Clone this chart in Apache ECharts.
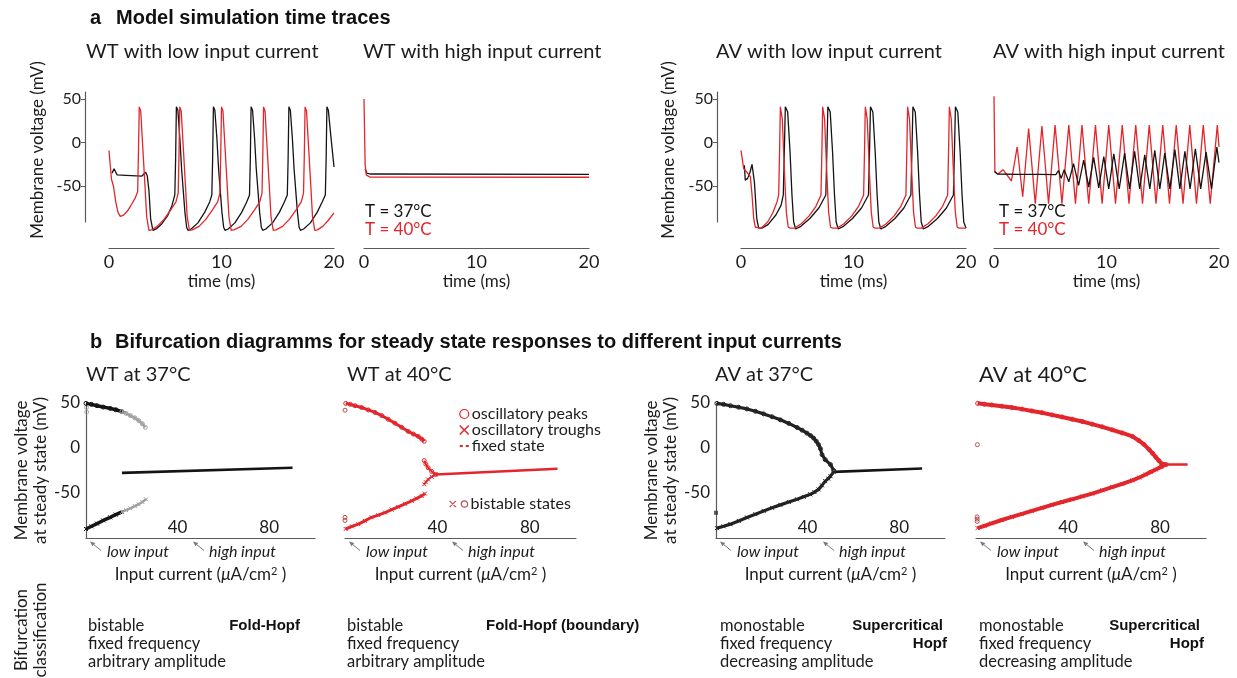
<!DOCTYPE html>
<html>
<head>
<meta charset="utf-8">
<script src="https://cdn.jsdelivr.net/npm/echarts@6/dist/echarts.min.js"></script>
<style>
html, body { margin: 0; padding: 0; background: #fff; }
#chart { width: 1237px; height: 678px; }
</style>
</head>
<body>
<div id="chart"></div>
<script>
// time traces [t (ms), V (mV)]
var wtLow37 = [[0.27,-35],[0.45,-30],[0.72,-37],[1.5,-37.5],[2.9,-38.5],[3.05,-39.5],[3.26,-34],[3.4,-38],[3.55,-55],[3.7,-87],[3.9,-100.5],
    [4.2,-99],[4.7,-93],[5.2,-84],[5.6,-72],[5.85,-60],[5.92,-20],[5.99,41],
    [6.12,37],[6.3,5],[6.45,-30],[6.6,-55],[6.75,-80],[6.9,-97],[7.02,-100.5],
    [7.3,-99],[7.9,-92],[8.5,-80],[8.95,-68],[9.14,-60],[9.21,-20],[9.28,41],
    [9.41,37],[9.59,5],[9.74,-30],[9.89,-55],[10.04,-80],[10.19,-97],[10.31,-100.5],
    [10.59,-99],[11.19,-92],[11.79,-80],[12.24,-68],[12.49,-60],[12.56,-20],[12.63,41],
    [12.76,37],[12.94,5],[13.09,-30],[13.24,-55],[13.39,-80],[13.54,-97],[13.66,-100.5],
    [13.94,-99],[14.54,-92],[15.14,-80],[15.59,-68],[15.85,-60],[15.92,-20],[15.99,41],
    [16.12,37],[16.3,5],[16.45,-30],[16.6,-55],[16.75,-80],[16.9,-97],[17.02,-100.5],
    [17.3,-99],[17.9,-92],[18.5,-80],[18.95,-68],[19.23,-60],[19.3,-20],[19.37,41],
    [19.5,37],[19.7,10],[20,-28]];
var wtLow40 = [[0,-9],[0.12,-9],[0.22,-42],[0.4,-50],[0.6,-68],[0.8,-80],[1.0,-84.5],[1.3,-83],[1.6,-79],[2.0,-71],[2.35,-63],[2.55,-56],[2.62,-10],[2.69,41],
    [2.82,36],[3.0,-5],[3.2,-50],[3.35,-85],[3.55,-100.5],[3.79,-100],
    [4.29,-96],[4.89,-88],[5.49,-77],[5.95,-68],[6.15,-58],[6.22,-15],[6.29,41],
    [6.42,36],[6.6,-5],[6.8,-50],[6.95,-85],[7.15,-100.5],[7.4,-100],
    [8.0,-96],[8.6,-88],[9.2,-77],[9.66,-68],[9.86,-58],[9.93,-15],[10.0,41],
    [10.13,36],[10.31,-5],[10.51,-50],[10.66,-85],[10.86,-100.5],[11.1,-100],
    [11.74,-96],[12.34,-88],[12.94,-77],[13.4,-68],[13.6,-58],[13.67,-15],[13.74,41],
    [13.87,36],[14.05,-5],[14.25,-50],[14.4,-85],[14.6,-100.5],[14.85,-100],
    [15.43,-96],[16.03,-88],[16.63,-77],[17.09,-68],[17.29,-58],[17.36,-15],[17.43,41],
    [17.56,36],[17.74,-5],[17.94,-50],[18.09,-85],[18.29,-100.5],[18.53,-100],
    [19.0,-96],[19.5,-89],[20,-80.5]];
var wtHigh37 = [[0.1,-30],[0.25,-35],[0.6,-36],[20,-36.4]];
var wtHigh40 = [[0,50],[0.1,-25],[0.2,-37],[0.5,-39.5],[20,-39.7]];
var avLow37 = [[0.3,-26],[0.38,-43],[0.59,-41],[0.8,-34],[0.98,-25],[1.19,-45],[1.4,-87],[1.57,-98],[1.85,-98],[2.4,-94],[3.1,-83],[3.56,-72],[3.76,-60],[3.85,-11],[3.94,41],
    [4.15,35],[4.36,-11],[4.53,-60],[4.68,-91],[4.86,-99],
    [5.32,-96],[6.12,-87],[6.92,-75],[7.54,-60],[7.63,-12],[7.72,41],
    [7.93,35],[8.14,-11],[8.31,-60],[8.46,-91],[8.64,-99],
    [9.11,-96],[9.91,-87],[10.71,-75],[11.33,-60],[11.42,-12],[11.51,41],
    [11.72,35],[11.93,-11],[12.1,-60],[12.25,-91],[12.43,-99],
    [12.88,-96],[13.68,-87],[14.48,-75],[15.1,-60],[15.19,-12],[15.28,41],
    [15.49,35],[15.7,-11],[15.87,-60],[16.02,-91],[16.2,-99],
    [16.66,-96],[17.46,-87],[18.26,-75],[18.88,-60],[18.97,-12],[19.06,41],
    [19.27,35],[19.48,-11],[19.65,-60],[19.8,-91],[20,-98]];
var avLow40 = [[0,-9],[0.15,-8],[0.24,-30],[0.39,-31],[0.53,-34],[0.83,-39],[0.98,-60],[1.13,-87],[1.27,-97],[1.42,-98],[1.78,-98],[2.37,-91],[2.81,-81],[3.2,-68],[3.35,-60],[3.44,-3],[3.5,41],
    [3.67,27],[3.85,-30],[4.03,-80],[4.2,-97],[4.38,-98],
    [4.76,-98],[5.36,-93],[6.06,-84],[6.66,-73],[7.11,-60],[7.2,-3],[7.26,41],
    [7.43,27],[7.61,-30],[7.79,-80],[7.96,-97],[8.14,-98],
    [8.55,-98],[9.15,-93],[9.85,-84],[10.45,-73],[10.9,-60],[10.99,-3],[11.05,41],
    [11.22,27],[11.4,-30],[11.58,-80],[11.75,-97],[11.93,-98],
    [12.31,-98],[12.91,-93],[13.61,-84],[14.21,-73],[14.66,-60],[14.75,-3],[14.81,41],
    [14.98,27],[15.16,-30],[15.34,-80],[15.51,-97],[15.69,-98],
    [16.02,-98],[16.62,-93],[17.32,-84],[17.92,-73],[18.37,-60],[18.46,-3],[18.52,41],
    [18.69,27],[18.87,-30],[19.05,-80],[19.22,-97],[19.4,-98],[20,-98]];
var avHigh37 = [[0.05,-33],[0.3,-36],[2,-36.3],[4,-36.5],[5.5,-36.8],[5.73,-32],[5.97,-41],[6.24,-31],[6.65,-45],[7.07,-24],[7.52,-49],[7.97,-20],[8.42,-51],[8.86,-17],[9.31,-52],[9.76,-16],[10.2,-53],[10.65,-13],[11.13,-53],[11.61,-12],[12.05,-53],[12.5,-10],[12.95,-53],[13.4,-14],[13.85,-53],[14.29,-9],[14.74,-53],[15.18,-12],[15.63,-53],[16.08,-8],[16.52,-53],[16.97,-10],[17.43,-53],[17.9,-7],[18.37,-53],[18.85,-11],[19.33,-53],[19.81,-5],[20,-23]];
var avHigh40 = [[0,53],[0.08,-34],[0.36,-36],[0.8,-31],[1.55,-44],[2.06,-5],[2.55,-62],[3.08,16],[3.67,-70],[4.26,19],[4.85,-70],[5.43,20],[6.04,-70],[6.65,20],[7.24,-70],[7.82,20],[8.42,-70],[9.02,20],[9.61,-70],[10.2,20],[10.8,-70],[11.4,20],[12.0,-70],[12.6,20],[13.2,-70],[13.8,20],[14.4,-70],[15.0,20],[15.6,-70],[16.2,20],[16.8,-70],[17.4,20],[18.0,-70],[18.6,20],[19.22,-70],[19.85,20],[20,-5]];

// bifurcation branches [I (uA/cm2), V (mV)]
var wt37Peaks = [[0,49.6],[2.4,48.5],[4.8,47],[7.5,45.5],[10.6,44],[13,42.5],[15.7,40.4],[17.5,38.5],[19.4,36],[21.3,33.5],[23,30.5],[24.6,27],[25.9,23]];
var wt37Troughs = [[0,-90],[2.4,-87],[4.8,-84],[7.5,-80.5],[10.6,-77],[13,-74],[15.7,-71],[17.5,-69],[19.4,-67],[21.3,-64.5],[23,-62.5],[24.6,-60],[26.2,-57]];
var wt37Fixed = [[15.7,-27.6],[90.2,-22]];
var wt37Bistable = [[0.2,45],[0.3,40]];

var wt40Peaks = [[0.3,49.6],[2.3,48.5],[4.3,47],[7.2,45],[10.1,42.3],[13,39.5],[15.9,36],[18.7,32],[21.6,27.6],[24.5,23],[27.4,18.4],[29.6,15.5],[31.7,12.9],[33.2,10],[34.3,7.4]];
var wt40PeaksNear = [[34.3,-14],[35,-18],[36,-22],[37.5,-26],[39.2,-29.4]];
var wt40Troughs = [[0.3,-90],[3,-87],[5.8,-84.6],[8.6,-81],[11.5,-77],[14.4,-74.5],[17.3,-71.7],[20.2,-68.5],[23,-65.4],[26,-62],[28.9,-58.8],[31,-56],[33.2,-53.3],[34.6,-50.7]];
var wt40TroughsNear = [[34.3,-40.4],[35,-38],[36,-35],[37.5,-32],[39.2,-29.4]];
var wt40Fixed = [[39.2,-29.4],[92,-23]];
var wt40Bistable = [[0,42],[0,-77],[0,-80.5]];

var av37Peaks = [[0.4,49.6],[3.3,48.5],[6.3,47],[9.9,45.3],[13.5,43.4],[17.2,40.8],[20.8,37.9],[24.5,34.7],[28.1,31.3],[31.8,27.3],[35.4,22.8],[37.6,19.8],[39.7,16.5],[41.3,13.8],[42.6,11],[43.8,7.5],[44.8,3.7],[45.6,-0.7],[46.3,-7.4],[47.7,-12.9],[50,-18.4],[51.4,-25]];
var av37Troughs = [[0.4,-89],[3.3,-87],[6.3,-84.6],[9.9,-81],[13.5,-77.2],[17.2,-73.5],[20.8,-69.9],[24.5,-66.5],[28.1,-63.2],[31.8,-60],[35.4,-57],[38.3,-54.3],[41.2,-51.5],[43,-49],[44.8,-46],[46.3,-41.5],[47.7,-36.8],[49,-34],[50,-31.3],[51.4,-26.5]];
var av37Fixed = [[51.4,-26.5],[90,-22.8]];
var av37Bistable = [[0,-72]];

var av40Peaks = [[0.7,49.6],[3.7,48.7],[6.8,47.8],[11.2,46.5],[15.6,44.9],[20,43.2],[24.3,41.2],[28.7,39.2],[33,36.8],[37.4,34.5],[41.8,32],[46.2,29.4],[50.5,26.5],[54.9,23.5],[59.2,20.2],[63.6,16.7],[68,12.9],[70.9,8.1],[73,4],[75.3,-1.8],[76.8,-6],[78.2,-10.3],[79.5,-14],[80.8,-17.6],[82.5,-18.4]];
var av40Troughs = [[0.7,-89],[3.7,-86.5],[6.8,-83.8],[11.2,-80],[15.6,-76.5],[20,-73.2],[24.3,-69.9],[28.7,-66.5],[33,-63.2],[37.4,-60],[41.8,-57],[46.2,-53.8],[50.5,-50.7],[54.9,-47],[59.2,-43.4],[63.6,-39.8],[68,-36],[71,-32.8],[73.8,-29.4],[76,-26.5],[78.2,-23.9],[80.5,-21],[82.5,-18.4]];
var av40Fixed = [[82.5,-18.4],[92,-18.4]];
var av40Bistable = [[0.6,3.7],[0.5,-76.5],[0.5,-79],[0.5,-81.6]];

var timeTicks = [0, 10, 20];
var voltTicks = [-50, 0, 50];
var currentTicks = [40, 80];

var RED = '#e2262b', BLACK = '#141414', GREY = '#a0a0a0', AXIS = '#5a5a5a', TXT = '#1c1c1c';
var FONT = 'Lato, "Open Sans", sans-serif';
var BOLD = '"Liberation Sans", Arial, sans-serif';
var xPath = 'path://M0,0L10,10M10,0L0,10';

var topLeft = [109, 364, 741, 994];
var botLeft = [86, 345, 716, 976];
var botWidth = [229, 231, 229, 230];

var chart = echarts.init(document.getElementById('chart'));

var grids = [], xAxes = [], yAxes = [], series = [];
topLeft.forEach(function (l, i) {
    grids.push({left: l, top: 92, width: 225, height: 130});
    xAxes.push({
        gridIndex: i, type: 'value', min: 0, max: 20, interval: 10, offset: 26,
        axisLine: {show: true, onZero: false, lineStyle: {color: AXIS, width: 1.2}},
        axisTick: {show: false}, splitLine: {show: false},
        axisLabel: {fontSize: 18, color: TXT, fontFamily: FONT, margin: 5, customValues: timeTicks},
        name: 'time (ms)', nameLocation: 'middle', nameGap: 25,
        nameTextStyle: {fontSize: 17, color: TXT, fontFamily: FONT}
    });
    yAxes.push({
        gridIndex: i, type: 'value', min: -91, max: 58, offset: 24, show: (i == 0 || i == 2),
        axisLine: {show: true, onZero: false, lineStyle: {color: AXIS, width: 1.2}},
        axisTick: {show: true, length: 4, lineStyle: {color: AXIS}, customValues: voltTicks},
        axisLabel: {fontSize: 16, color: TXT, fontFamily: FONT, margin: 4, customValues: voltTicks},
        splitLine: {show: false}
    });
});
botLeft.forEach(function (l, i) {
    var k = i + 4;
    grids.push({left: l, top: 403, width: botWidth[i], height: 135});
    xAxes.push({
        gridIndex: k, type: 'value', min: 0, max: 100,
        axisLine: {show: true, onZero: false, lineStyle: {color: AXIS, width: 1.2}},
        axisTick: {show: false}, splitLine: {show: false},
        axisLabel: {inside: true, fontSize: 17, color: TXT, fontFamily: FONT, margin: 2, customValues: currentTicks},
        name: 'Input current ({it|\u03bc}A/cm{sup|2} )', nameLocation: 'middle', nameGap: 28,
        nameTextStyle: {fontSize: 17, color: TXT, fontFamily: FONT,
            rich: {it: {fontStyle: 'italic', fontSize: 17, fontFamily: FONT, color: TXT},
                   sup: {fontSize: 11, verticalAlign: 'top', fontFamily: FONT, color: TXT}}}
    });
    yAxes.push({
        gridIndex: k, type: 'value', min: -100, max: 50, show: (i == 0 || i == 2),
        axisLine: {show: true, onZero: false, lineStyle: {color: AXIS, width: 1.2}},
        axisTick: {show: false}, splitLine: {show: false},
        axisLabel: {fontSize: 17, color: TXT, fontFamily: FONT, margin: 6, customValues: voltTicks},
        name: 'Membrane voltage\nat steady state (mV)', nameLocation: 'middle', nameGap: 36,
        nameTextStyle: {fontSize: 17, color: TXT, fontFamily: FONT, lineHeight: 19}
    });
});

function trace(i, data, color) {
    return {type: 'line', xAxisIndex: i, yAxisIndex: i, data: data, symbol: 'none', clip: false,
        silent: true, lineStyle: {color: color, width: 1.3}};
}
function branch(i, data, color, sym, w, name) {
    return {type: 'line', name: name, xAxisIndex: i, yAxisIndex: i, data: data,
        symbol: sym, symbolSize: 4, showSymbol: true, showAllSymbol: true, silent: true,
        lineStyle: {color: color, width: w},
        itemStyle: {color: 'rgba(0,0,0,0)', borderColor: color, borderWidth: 1}};
}
function fixed(i, data, color, name) {
    return {type: 'line', name: name, xAxisIndex: i, yAxisIndex: i, data: data, symbol: 'none',
        silent: true, lineStyle: {color: color, width: 2.6}};
}
function strays(i, data, color, name) {
    return {type: 'scatter', name: name, xAxisIndex: i, yAxisIndex: i, data: data, symbol: 'circle',
        symbolSize: 4, silent: true, itemStyle: {color: 'rgba(0,0,0,0)', borderColor: color, borderWidth: 1}};
}

series.push(trace(0, wtLow37, BLACK), trace(0, wtLow40, RED));
series.push(trace(1, wtHigh37, BLACK), trace(1, wtHigh40, RED));
series.push(trace(2, avLow37, BLACK), trace(2, avLow40, RED));
series.push(trace(3, avHigh40, RED), trace(3, avHigh37, BLACK));

// WT 37: dark at low currents, grey towards the end of the branch
series.push(branch(4, wt37Peaks.filter(function (p) { return p[0] <= 16; }), BLACK, 'circle', 3.5));
series.push(branch(4, wt37Peaks.filter(function (p) { return p[0] >= 15.7; }), GREY, 'circle', 2.5));
series.push(branch(4, wt37Troughs.filter(function (p) { return p[0] <= 16; }), BLACK, xPath, 3.5));
series.push(branch(4, wt37Troughs.filter(function (p) { return p[0] >= 15.7; }), GREY, xPath, 2.5));
series.push(fixed(4, wt37Fixed, BLACK), strays(4, wt37Bistable, GREY));

series.push(branch(5, wt40Peaks, RED, 'circle', 3, 'oscillatory peaks'));
series.push(branch(5, wt40PeaksNear, RED, 'circle', 2, 'oscillatory peaks'));
series.push(branch(5, wt40Troughs, RED, xPath, 3, 'oscillatory troughs'));
series.push(branch(5, wt40TroughsNear, RED, xPath, 2, 'oscillatory troughs'));
series.push(fixed(5, wt40Fixed, RED, 'fixed state'), strays(5, wt40Bistable, '#b02020', 'bistable states'));

series.push(branch(6, av37Peaks, '#222', 'circle', 3.2), branch(6, av37Troughs, '#222', xPath, 3.2));
series.push(fixed(6, av37Fixed, BLACK));
series.push({type: 'scatter', xAxisIndex: 6, yAxisIndex: 6, data: av37Bistable, symbol: 'rect', symbolSize: 4,
    silent: true, itemStyle: {color: '#333'}});

series.push(branch(7, av40Peaks, RED, 'circle', 4), branch(7, av40Troughs, RED, xPath, 4));
series.push(fixed(7, av40Fixed, RED), strays(7, av40Bistable, '#a03030'));

// text
var graphic = [];
function txt(t, x, y, size, color, extra) {
    var o = {type: 'text', x: x, y: y, silent: true,
        style: {text: t, fill: color || TXT, font: size + 'px ' + FONT, verticalAlign: 'middle', align: 'left'}};
    if (extra) {
        for (var k in extra) { o.style[k] = extra[k]; }
    }
    graphic.push(o);
    return o;
}
function bold(t, x, y, size, align) {
    graphic.push({type: 'text', x: x, y: y, silent: true,
        style: {text: t, fill: '#111', font: 'bold ' + size + 'px ' + BOLD, verticalAlign: 'middle', align: align || 'left'}});
}
function arrow(hx, hy) {
    var tx = hx + 11, ty = hy + 9;
    var len = Math.sqrt(121 + 81), ux = (hx - tx) / len, uy = (hy - ty) / len;
    var bx = hx - ux * 5, by = hy - uy * 5;
    graphic.push({type: 'line', silent: true, shape: {x1: tx, y1: ty, x2: bx, y2: by}, style: {stroke: '#777', lineWidth: 1}});
    graphic.push({type: 'polygon', silent: true,
        shape: {points: [[hx, hy], [bx - uy * 2.2, by + ux * 2.2], [bx + uy * 2.2, by - ux * 2.2]]},
        style: {fill: '#777'}});
}

bold('a', 90, 18, 20);
bold('Model simulation time traces', 116, 18, 20);
bold('b', 90, 342, 20);
bold('Bifurcation diagramms for steady state responses to different input currents', 115, 342, 20);

txt('WT with low input current', 86, 52, 20);
txt('WT with high input current', 363, 52, 20);
txt('AV with low input current', 716, 52, 20);
txt('AV with high input current', 993, 52, 20);
txt('T = 37\u00b0C', 365, 212, 17, BLACK);
txt('T = 40\u00b0C', 365, 230, 17, RED);
txt('T = 37\u00b0C', 999, 212, 17, BLACK);
txt('T = 40\u00b0C', 999, 230, 17, RED);
var vname = txt('Membrane voltage (mV)', 38, 150, 17, TXT, {align: 'center'});
vname.rotation = Math.PI / 2;
var vname2 = txt('Membrane voltage (mV)', 669, 150, 17, TXT, {align: 'center'});
vname2.rotation = Math.PI / 2;

txt('WT at 37\u00b0C', 86, 375, 20);
txt('WT at 40\u00b0C', 347, 375, 20);
txt('AV at 37\u00b0C', 715, 375, 20);
txt('AV at 40\u00b0C', 979, 375, 22);

botLeft.forEach(function (l) {
    arrow(l + 4, 541.5);
    txt('low input', l + 21, 552, 16, TXT, {font: 'italic 16px ' + FONT});
    arrow(l + 107, 541.5);
    txt('high input', l + 123, 552, 16, TXT, {font: 'italic 16px ' + FONT});
});

var cls = txt('Bifurcation\nclassification', 31, 630, 17, TXT, {align: 'center', lineHeight: 19});
cls.rotation = Math.PI / 2;

var classLeft = [88, 347, 720, 979];
var classLines = [['bistable', 'fixed frequency', 'arbitrary amplitude'],
                  ['bistable', 'fixed frequency', 'arbitrary amplitude'],
                  ['monostable', 'fixed frequency', 'decreasing amplitude'],
                  ['monostable', 'fixed frequency', 'decreasing amplitude']];
classLeft.forEach(function (x, i) {
    classLines[i].forEach(function (s, j) { txt(s, x, 626 + j * 18, 16.5); });
});
bold('Fold-Hopf', 300, 626, 15, 'right');
bold('Fold-Hopf (boundary)', 486, 626, 15);
bold('Supercritical', 943, 626, 15, 'right');
bold('Hopf', 947, 644, 15, 'right');
bold('Supercritical', 1200, 626, 15, 'right');
bold('Hopf', 1204, 644, 15, 'right');

var option = {
    backgroundColor: '#fff',
    animation: false,
    textStyle: {fontFamily: FONT},
    grid: grids,
    xAxis: xAxes,
    yAxis: yAxes,
    legend: [{
        orient: 'vertical', left: 454, top: 401, itemWidth: 9, itemHeight: 9, itemGap: 0,
        selectedMode: false, lineStyle: {color: 'rgba(0,0,0,0)', width: 0},
        textStyle: {fontSize: 16, color: TXT, fontFamily: FONT, padding: [0, 0, 0, -2]},
        data: [
            {name: 'oscillatory peaks', icon: 'circle', itemStyle: {color: 'rgba(0,0,0,0)', borderColor: RED, borderWidth: 1.2}},
            {name: 'oscillatory troughs', icon: xPath, itemStyle: {color: 'rgba(0,0,0,0)', borderColor: RED, borderWidth: 1.5}},
            {name: 'fixed state', icon: 'path://M0,4h3v2h-3zM6,4h3v2h-3z', itemStyle: {color: RED, borderWidth: 0}}
        ]
    }, {
        orient: 'vertical', left: 444, top: 491, itemWidth: 18, itemHeight: 8,
        selectedMode: false,
        textStyle: {fontSize: 16, color: TXT, fontFamily: FONT, padding: [0, 0, 0, -2]},
        data: [
            {name: 'bistable states', icon: 'path://M0,1L6,7M6,1L0,7M14,4m-3,0a3,3 0 1,0 6,0a3,3 0 1,0 -6,0',
             itemStyle: {color: 'rgba(0,0,0,0)', borderColor: '#b02020', borderWidth: 1.2}}
        ]
    }],
    series: series,
    graphic: graphic
};
chart.setOption(option);
</script>
</body>
</html>
